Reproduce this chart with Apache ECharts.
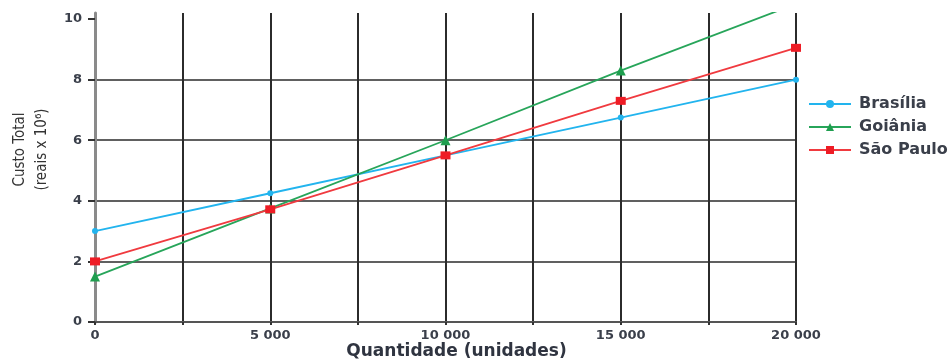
<!DOCTYPE html>
<html>
<head>
<meta charset="utf-8">
<script src="https://cdn.jsdelivr.net/npm/echarts@6/dist/echarts.min.js"></script>
<style>
  html, body { margin: 0; padding: 0; background: #fff; }
  #chart { width: 949px; height: 361px; }
</style>
</head>
<body>
<div id="chart"></div>
<script>
// Quantities (units) on the x axis
const quantities = [0, 5000, 10000, 15000, 20000];

// Total cost (reais x 10^6) for each city
const brasilia = [3.0, 4.25, 5.5, 6.75, 8.0];
const goiania  = [1.5, 3.75, 6.0, 8.3, 10.5];
const saoPaulo = [2.0, 3.72, 5.5, 7.3, 9.05];

// Tick values
const yTicks = [0, 2, 4, 6, 8, 10];
const xLabelTicks = [0, 5000, 10000, 15000, 20000];

const pairs = (vals) => quantities.map((q, i) => [q, vals[i]]);
const fmtThousands = (v) => String(v).replace(/\B(?=(\d{3})+(?!\d))/g, ' ');

const labelFont = { fontFamily: 'DejaVu Sans', fontWeight: 'bold', color: '#3a3f4a' };

const chart = echarts.init(document.getElementById('chart'));
chart.setOption({
  animation: false,
  grid: { left: 95, right: 153, top: 13, bottom: 39, outerBoundsMode: 'none' },
  legend: {
    orient: 'vertical',
    left: 808,
    top: 96,
    padding: 0,
    itemWidth: 42,
    itemHeight: 10,
    itemGap: 7,
    textStyle: { ...labelFont, fontSize: 16, lineHeight: 16, padding: [0, 0, 0, 3] },
    data: ['Brasília', 'Goiânia', 'São Paulo']
  },
  xAxis: {
    type: 'value',
    min: 0,
    max: 20000,
    interval: 2500,
    name: 'Quantidade (unidades)',
    nameLocation: 'middle',
    nameGap: 21,
    nameMoveOverlap: false,
    nameTextStyle: { ...labelFont, fontSize: 17, color: '#2f3440', padding: [0, 0, 0, 22] },
    axisLine: { show: true, lineStyle: { color: '#555', width: 2 } },
    axisTick: { show: true, length: 3, lineStyle: { color: '#333', width: 2 } },
    axisLabel: {
      ...labelFont,
      fontSize: 13,
      margin: 7,
      customValues: xLabelTicks,
      formatter: (v) => fmtThousands(v)
    },
    splitLine: { show: true, lineStyle: { color: '#2b2b2b', width: 2 } }
  },
  yAxis: {
    type: 'value',
    min: 0,
    max: 10.2,
    name: 'Custo Total\n(reais x 10⁶)',
    nameLocation: 'middle',
    nameRotate: 90,
    nameGap: 40,
    nameTextStyle: {
      fontFamily: "'DejaVu Sans Condensed', 'Liberation Sans', sans-serif",
      fontSize: 15,
      color: '#333',
      lineHeight: 22,
      padding: [0, 0, 0, 36]
    },
    axisLine: { show: true, lineStyle: { color: '#8a8a8a', width: 3 } },
    axisTick: { show: true, length: 7, customValues: yTicks, lineStyle: { color: '#333', width: 2 } },
    axisLabel: { ...labelFont, fontSize: 13, margin: 13, customValues: yTicks },
    splitLine: { show: true, showMaxLine: false, lineStyle: { color: '#2b2b2b', width: 1.5 } }
  },
  series: [
    {
      name: 'Brasília',
      type: 'line',
      data: pairs(brasilia),
      symbol: 'circle',
      symbolSize: 6,
      lineStyle: { color: '#22b4ee', width: 1.8 },
      itemStyle: { color: '#22b4ee' },
      z: 3
    },
    {
      name: 'Goiânia',
      type: 'line',
      data: pairs(goiania),
      symbol: 'triangle',
      symbolSize: 10,
      lineStyle: { color: '#27a55a', width: 1.8 },
      itemStyle: { color: '#1f9e4f' },
      clip: true,
      z: 3
    },
    {
      name: 'São Paulo',
      type: 'line',
      data: pairs(saoPaulo),
      symbol: 'rect',
      symbolSize: [10, 8],
      lineStyle: { color: '#f03a3f', width: 1.8 },
      itemStyle: { color: '#ee1c25' },
      z: 3
    }
  ]
});
</script>
</body>
</html>
